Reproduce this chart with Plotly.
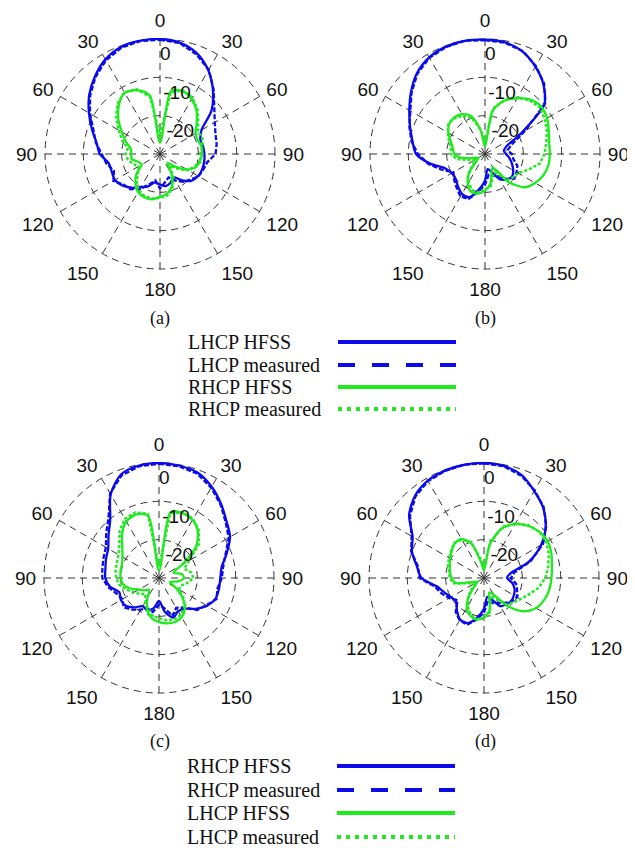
import plotly.graph_objects as go

# ---------------- data (dB, angle measured clockwise from broadside) ----------------
THETA = list(range(0, 360, 10))

ANGLE_TICKVALS = list(range(0, 360, 30))
ANGLE_TICKTEXT = ['0', '30', '60', '90', '120', '150', '180', '150', '120', '90', '60', '30']
RADIAL_TICKVALS = [-20, -10, 0]
RADIAL_TICKTEXT = ['-20', '-10', '0']

PANEL_LABELS = ['(a)', '(b)', '(c)', '(d)']
LEGEND_TOP = ['LHCP HFSS', 'LHCP measured', 'RHCP HFSS', 'RHCP measured']
LEGEND_BOTTOM = ['RHCP HFSS', 'RHCP measured', 'LHCP HFSS', 'LHCP measured']

# (a)
A_BLUE_SIM = [0.0, -0.5, -2.0, -4.8, -8.5, -12.5, -17.5, -18.8, -18.6, -18.4, -18.3, -18.3, -18.5, -19.2, -21.0, -23.0, -22.0, -21.5,
              -22.0, -22.5, -21.0, -20.0, -18.5, -17.2, -16.4, -16.6, -16.4, -14.3, -13.2, -11.1, -8.6, -5.9, -3.6, -1.5, -0.3, 0.0]
A_BLUE_MEAS = [-0.2, -0.6, -2.3, -4.6, -8.2, -11.5, -13.5, -14.6, -15.0, -15.5, -17.5, -18.0, -18.4, -19.6, -20.5, -22.0, -23.5, -22.5,
               -21.0, -23.0, -21.5, -19.5, -18.0, -17.6, -16.0, -17.2, -15.8, -14.8, -13.0, -11.5, -8.9, -6.2, -3.8, -1.8, -0.5, -0.1]
A_GREEN_SIM = [-27.0, -13.3, -12.6, -13.5, -15.2, -17.5, -19.3, -19.5, -19.0, -19.0, -19.5, -20.0, -22.0, -25.0, -27.0, -24.0, -21.0, -19.5,
               -18.8, -18.0, -18.0, -18.5, -20.0, -22.0, -24.5, -24.0, -22.5, -22.5, -22.3, -20.5, -18.5, -15.8, -13.3, -11.6, -12.3, -14.5]
A_GREEN_MEAS = [-25.0, -13.6, -12.4, -13.0, -14.8, -17.0, -18.5, -18.2, -18.8, -19.5, -19.0, -20.5, -21.5, -24.0, -26.0, -23.0, -20.5, -19.0,
                -18.5, -18.2, -18.3, -19.0, -20.5, -22.5, -23.5, -22.5, -21.5, -21.0, -21.5, -19.5, -17.5, -15.0, -12.8, -11.4, -12.0, -14.8]

# (b)
B_BLUE_SIM = [-0.2, -0.4, -1.5, -3.7, -6.3, -9.8, -19.0, -24.0, -25.0, -24.5, -23.5, -22.5, -21.5, -20.8, -21.3, -22.5, -25.0, -26.0,
              -23.0, -20.5, -18.0, -18.0, -19.0, -20.0, -20.0, -19.0, -15.5, -12.0, -10.8, -9.2, -7.2, -4.8, -2.4, -0.9, -0.2, 0.0]
B_BLUE_MEAS = [-0.3, -0.5, -1.4, -3.5, -6.0, -9.5, -18.0, -22.5, -24.0, -23.0, -22.5, -21.0, -20.5, -20.0, -21.5, -23.5, -24.0, -24.5,
               -22.0, -20.0, -17.5, -17.2, -18.5, -19.5, -20.5, -18.0, -15.0, -12.5, -10.5, -9.0, -7.5, -5.0, -2.6, -1.0, -0.3, 0.0]
B_GREEN_SIM = [-28.0, -18.5, -15.2, -13.2, -11.5, -10.8, -11.3, -12.3, -13.0, -13.1, -13.2, -13.8, -14.9, -16.5, -20.5, -26.0, -25.0, -22.0,
               -20.5, -19.5, -19.5, -21.0, -23.5, -27.0, -28.0, -27.0, -24.0, -22.0, -21.5, -20.5, -19.0, -17.8, -17.5, -18.0, -19.5, -24.0]
B_GREEN_MEAS = [-27.0, -18.0, -15.0, -13.0, -11.8, -11.2, -12.0, -12.8, -13.8, -14.5, -15.5, -18.0, -20.0, -20.5, -21.0, -24.5, -24.0, -21.5,
                -20.8, -19.8, -20.0, -21.5, -23.0, -26.0, -27.0, -25.5, -22.5, -21.0, -21.0, -20.0, -18.8, -17.5, -17.8, -18.5, -20.0, -23.5]

# (c)
C_BLUE_SIM = [0.0, -0.2, -0.7, -2.5, -4.8, -7.0, -8.6, -11.2, -13.4, -14.0, -14.1, -14.3, -15.5, -17.5, -19.5, -20.0, -19.0, -21.0,
              -24.0, -22.0, -21.0, -21.5, -20.0, -18.7, -18.5, -19.0, -17.0, -16.0, -15.8, -15.3, -14.7, -12.8, -10.2, -4.8, -1.2, -0.2]
C_BLUE_MEAS = [-0.2, -0.4, -1.0, -2.8, -5.0, -7.3, -9.0, -11.5, -13.0, -13.6, -14.5, -14.0, -15.8, -17.0, -20.0, -21.0, -19.5, -22.0,
               -23.0, -21.0, -21.5, -20.5, -19.2, -18.0, -19.0, -18.2, -16.5, -15.2, -15.0, -14.6, -14.0, -12.0, -9.5, -4.5, -1.5, -0.4]
C_GREEN_SIM = [-28.0, -12.5, -12.0, -12.5, -14.2, -17.5, -23.0, -26.0, -24.0, -23.5, -25.0, -27.0, -25.0, -22.0, -19.5, -18.2, -17.8, -18.0,
               -18.5, -19.3, -21.0, -24.0, -26.0, -25.0, -24.0, -22.0, -20.5, -20.0, -19.8, -19.7, -19.0, -17.5, -15.0, -13.0, -12.4, -13.5]
C_GREEN_MEAS = [-27.0, -12.8, -11.8, -12.2, -13.8, -16.5, -21.0, -23.0, -21.5, -21.0, -22.5, -24.0, -24.0, -21.5, -19.8, -18.8, -18.5, -18.8,
                -19.5, -20.0, -21.5, -23.0, -24.5, -23.5, -22.5, -21.0, -19.5, -18.8, -18.5, -18.3, -17.8, -16.5, -14.0, -12.2, -11.8, -13.0]

# (d)
D_BLUE_SIM = [0.0, -0.3, -1.4, -3.8, -6.0, -9.0, -12.8, -17.5, -23.0, -24.0, -22.5, -21.5, -21.0, -20.7, -21.0, -21.5, -24.0, -25.0,
              -22.0, -19.5, -17.5, -17.5, -19.0, -20.5, -20.0, -19.0, -17.5, -13.7, -12.2, -10.0, -8.5, -4.5, -2.0, -0.7, -0.2, 0.0]
D_BLUE_MEAS = [-0.1, -0.4, -1.6, -3.6, -5.8, -8.8, -12.2, -17.0, -22.0, -23.0, -21.5, -20.8, -20.0, -20.5, -21.5, -22.5, -23.0, -24.0,
               -21.0, -19.0, -17.0, -17.3, -18.5, -21.0, -19.5, -18.2, -17.0, -13.2, -12.5, -9.8, -8.2, -4.8, -2.2, -0.8, -0.3, 0.0]
D_GREEN_SIM = [-28.0, -21.0, -16.2, -13.8, -12.2, -11.2, -10.8, -11.3, -12.0, -12.4, -12.7, -13.3, -14.3, -16.5, -20.5, -25.0, -26.0, -21.5,
               -19.8, -19.0, -19.5, -21.0, -24.0, -27.0, -28.0, -27.0, -22.5, -21.5, -21.0, -20.5, -19.8, -19.0, -18.2, -18.2, -20.5, -26.0]
D_GREEN_MEAS = [-27.0, -20.5, -15.8, -13.5, -12.0, -11.2, -11.2, -12.0, -13.0, -14.0, -15.5, -17.5, -19.0, -20.0, -21.0, -24.0, -25.0, -21.0,
                -19.5, -19.0, -19.8, -21.5, -23.5, -26.0, -27.0, -26.0, -22.0, -21.0, -20.8, -20.0, -19.5, -18.8, -18.0, -18.5, -20.0, -25.0]

# ---------------- figure ----------------
OFF = 8                      # default page margin of the html body
W, H = 635 - OFF, 848 - OFF
BLUE = 'rgb(10,10,235)'
GREEN = 'rgb(30,235,30)'
GRID = '#333333'
SANS = 'Liberation Sans, Arial, sans-serif'
SERIF = 'Liberation Serif, Times New Roman, serif'
R_MAX = 0.4                  # a little head-room so the 0 dB ring is drawn
R_PX = 115 * (30 + R_MAX) / 30
RAD_ANGLE = 95


def closed(v):
    return list(v) + list(v[:1])


panels = [
    ('polar', A_BLUE_SIM, A_BLUE_MEAS, A_GREEN_SIM, A_GREEN_MEAS),
    ('polar2', B_BLUE_SIM, B_BLUE_MEAS, B_GREEN_SIM, B_GREEN_MEAS),
    ('polar3', C_BLUE_SIM, C_BLUE_MEAS, C_GREEN_SIM, C_GREEN_MEAS),
    ('polar4', D_BLUE_SIM, D_BLUE_MEAS, D_GREEN_SIM, D_GREEN_MEAS),
]

fig = go.Figure()
th = closed(THETA)
for sub, bs, bm, gs, gm in panels:
    fig.add_trace(go.Scatterpolar(r=closed(bs), theta=th, subplot=sub, mode='lines',
                                  line=dict(color=BLUE, width=2.3, shape='spline', smoothing=0.8)))
    fig.add_trace(go.Scatterpolar(r=closed(bm), theta=th, subplot=sub, mode='lines',
                                  line=dict(color=BLUE, width=2.3, dash='5px,2px')))
    fig.add_trace(go.Scatterpolar(r=closed(gs), theta=th, subplot=sub, mode='lines',
                                  line=dict(color=GREEN, width=2.3, shape='spline', smoothing=0.8)))
    fig.add_trace(go.Scatterpolar(r=closed(gm), theta=th, subplot=sub, mode='lines',
                                  line=dict(color=GREEN, width=2.5, dash='3px,2px')))


def px_to_x(px):
    return (px - OFF) / W


def px_to_y(py):
    return 1 - (py - OFF) / H


def polar_layout(cx, cy):
    R = R_PX
    return dict(
        domain=dict(x=[px_to_x(cx - R), px_to_x(cx + R)], y=[px_to_y(cy + R), px_to_y(cy - R)]),
        bgcolor='rgba(0,0,0,0)',
        angularaxis=dict(rotation=90, direction='clockwise', tickmode='array',
                         tickvals=ANGLE_TICKVALS, ticktext=ANGLE_TICKTEXT,
                         showgrid=True, gridcolor=GRID, gridwidth=1, griddash='7px,5px',
                         showline=False, ticks='outside', ticklen=2, tickcolor='rgba(0,0,0,0)',
                         tickfont=dict(family=SANS, size=19, color='#111')),
        radialaxis=dict(range=[-30, R_MAX], tickmode='array', tickvals=RADIAL_TICKVALS,
                        ticktext=['<br>' + t for t in RADIAL_TICKTEXT],
                        showgrid=True, gridcolor=GRID, gridwidth=1, griddash='7px,5px',
                        showline=False, ticks='', angle=RAD_ANGLE, tickangle=RAD_ANGLE,
                        tickfont=dict(family=SANS, size=19, color='#111')),
    )


centers = [(160, 154), (485, 154), (159, 578), (484, 578)]
layout_polars = {}
for (sub, *_), (cx, cy) in zip(panels, centers):
    layout_polars[sub] = polar_layout(cx, cy)

annotations = []
label_pos = [(160, 318), (485, 318), (160, 741), (485, 741)]
for txt, (x, y) in zip(PANEL_LABELS, label_pos):
    annotations.append(dict(text=txt, x=px_to_x(x), y=px_to_y(y), xref='paper', yref='paper',
                            showarrow=False, font=dict(family=SERIF, size=18, color='#111'),
                            xanchor='center', yanchor='middle'))

shapes = []
styles = [(BLUE, 'solid'), (BLUE, '17px,17px'), (GREEN, 'solid'), (GREEN, '4px,5px')]
for texts, rows, tx, lx0, lx1 in [(LEGEND_TOP, [342, 365, 387, 409], 186, 338, 456),
                                  (LEGEND_BOTTOM, [766, 790, 813, 837], 185, 337, 455)]:
    for t, y, (col, dash) in zip(texts, rows, styles):
        annotations.append(dict(text=t, x=px_to_x(tx), y=px_to_y(y), xref='paper', yref='paper',
                                showarrow=False, font=dict(family=SERIF, size=20, color='#111'),
                                xanchor='left', yanchor='middle'))
        shapes.append(dict(type='line', xref='paper', yref='paper',
                           x0=px_to_x(lx0), x1=px_to_x(lx1), y0=px_to_y(y), y1=px_to_y(y),
                           line=dict(color=col, width=4, dash=dash)))

fig.update_layout(width=W, height=H, margin=dict(l=0, r=0, t=0, b=0),
                  paper_bgcolor='white', plot_bgcolor='white', showlegend=False,
                  annotations=annotations, shapes=shapes, **layout_polars)

fig.write_html('out.html')
